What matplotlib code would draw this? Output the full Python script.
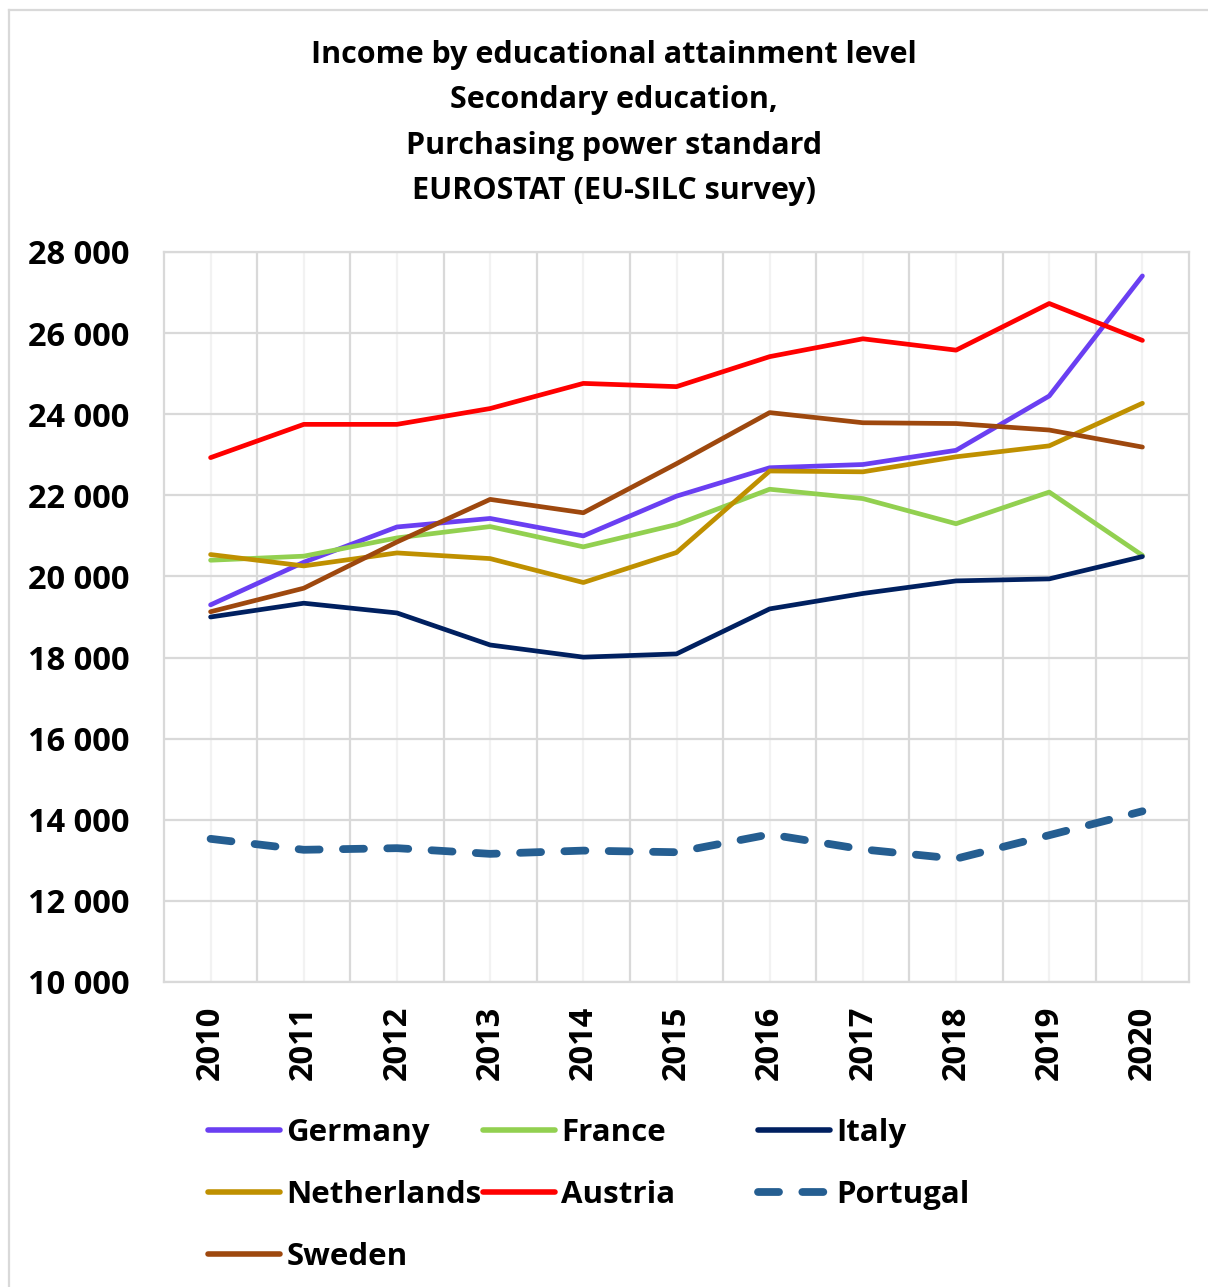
import matplotlib
matplotlib.use("Agg")
import matplotlib.pyplot as plt
from matplotlib.lines import Line2D
from matplotlib.ticker import MultipleLocator, FuncFormatter

# --- data (PPS, secondary education) ---
years = [2010, 2011, 2012, 2013, 2014, 2015, 2016, 2017, 2018, 2019, 2020]
germany     = [19300, 20350, 21220, 21430, 21000, 21980, 22680, 22760, 23110, 24450, 27410]
france      = [20400, 20500, 20950, 21230, 20730, 21280, 22150, 21920, 21300, 22080, 20520]
italy       = [19000, 19340, 19100, 18310, 18010, 18090, 19200, 19580, 19890, 19940, 20490]
netherlands = [20540, 20260, 20580, 20440, 19850, 20590, 22600, 22580, 22950, 23220, 24270]
austria     = [22930, 23750, 23750, 24140, 24760, 24680, 25420, 25860, 25580, 26730, 25820]
portugal    = [13530, 13260, 13300, 13160, 13240, 13200, 13640, 13270, 13040, 13620, 14210]
sweden      = [19130, 19710, 20850, 21900, 21570, 22780, 24040, 23790, 23770, 23610, 23190]

title_lines = ["Income by educational attainment level",
               "Secondary education,",
               "Purchasing power standard",
               "EUROSTAT (EU-SILC survey)"]

GRID_DARK  = "#D9D9D9"
GRID_LIGHT = "#F2F2F2"

series = [
    ("Germany",     germany,     "#6A3FF2", "-"),
    ("France",      france,      "#92D050", "-"),
    ("Italy",       italy,       "#002060", "-"),
    ("Netherlands", netherlands, "#BF9000", "-"),
    ("Austria",     austria,     "#FF0000", "-"),
    ("Portugal",    portugal,    "#255E91", "--"),
    ("Sweden",      sweden,      "#9E480E", "-"),
]

plt.rcParams["font.family"] = ["Open Sans", "DejaVu Sans"]
plt.rcParams["font.weight"] = "bold"

W, H = 1208, 1287
fig = plt.figure(figsize=(W / 100, H / 100), dpi=100)
ax = fig.add_axes([164 / W, 1 - 982 / H, (1189 - 164) / W, (982 - 252) / H])

x = list(range(len(years)))
handles = {}
for name, vals, color, ls in series:
    if ls == "--":
        (ln,) = ax.plot(x, vals, color=color, lw=5.6, linestyle=(0, (2.7, 3.0)),
                        dash_capstyle="round", solid_capstyle="round", zorder=3)
    else:
        (ln,) = ax.plot(x, vals, color=color, lw=3.4, solid_capstyle="round",
                        solid_joinstyle="round", zorder=3)
    handles[name] = ln

ax.set_xlim(-0.5, len(years) - 0.5)
ax.set_ylim(10000, 28000)
ax.yaxis.set_major_locator(MultipleLocator(2000))
ax.yaxis.set_major_formatter(FuncFormatter(lambda v, p: f"{int(v):,}".replace(",", " ")))
ax.set_xticks(x)
ax.set_xticklabels([str(y) for y in years], rotation=90, va="top", ha="center")
ax.set_xticks([i + 0.5 for i in x[:-1]], minor=True)

ax.grid(True, which="major", axis="y", color=GRID_DARK, lw=1.6, zorder=0)
ax.grid(True, which="major", axis="x", color=GRID_LIGHT, lw=1.6, zorder=0)
ax.grid(True, which="minor", axis="x", color=GRID_DARK, lw=1.6, zorder=0)
ax.set_axisbelow(True)
for s in ax.spines.values():
    s.set_color(GRID_DARK)
    s.set_linewidth(1.6)
ax.tick_params(which="both", length=0)
ax.tick_params(axis="y", labelsize=23.5, pad=25)
ax.tick_params(axis="x", labelsize=23.5, pad=17)
for lab in ax.get_xticklabels() + ax.get_yticklabels():
    lab.set_fontweight("bold")

for i, line in enumerate(title_lines):
    fig.text(614 / W, 1 - (55 + 45.3 * i) / H, line, ha="center", va="center",
             fontsize=22, fontweight="bold")

# legend, three columns
columns = [["Germany", "Netherlands", "Sweden"],
           ["France", "Austria"],
           ["Italy", "Portugal"]]
col_x = [208, 483, 758]
for names, cx in zip(columns, col_x):
    leg = fig.legend([handles[n] for n in names], names, loc="upper left",
                     bbox_to_anchor=(cx / W, 1 - 1118 / H), frameon=False,
                     prop={"size": 22.5, "weight": "bold"}, handlelength=2.3,
                     handletextpad=0.2, labelspacing=1.03, borderpad=0,
                     borderaxespad=0)
    for h in leg.get_lines():
        if h.get_linestyle() == "-":
            h.set_linewidth(4.0)

# outer chart border
fig.add_artist(Line2D([9 / W, 1], [1 - 10 / H, 1 - 10 / H], color=GRID_DARK, lw=1.6))
fig.add_artist(Line2D([9 / W, 9 / W], [0, 1 - 10 / H], color=GRID_DARK, lw=1.6))

fig.savefig("out.png", dpi=100)
